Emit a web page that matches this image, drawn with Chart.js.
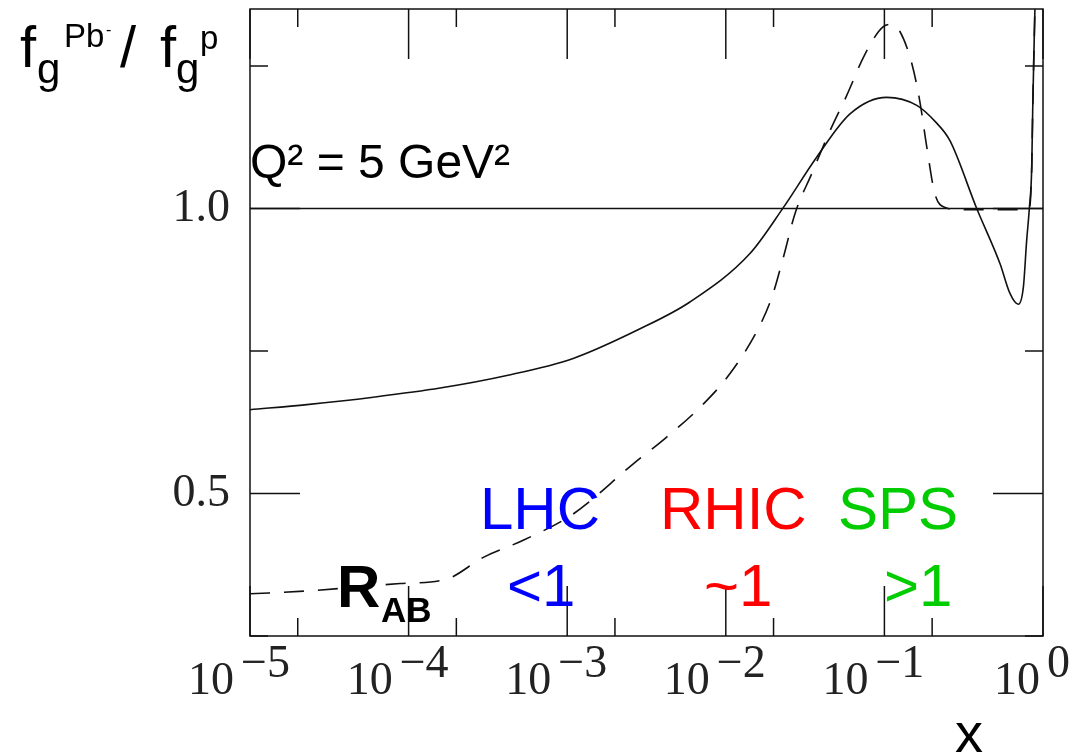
<!DOCTYPE html>
<html>
<head>
<meta charset="utf-8">
<script src="https://cdn.jsdelivr.net/npm/chart.js@4.4.1/dist/chart.umd.min.js"></script>
<style>
  body { margin: 0; background: #fff; }
  #wrap { width: 1077px; height: 755px; }
</style>
</head>
<body>
<div id="wrap"><canvas id="gluonChart" width="1077" height="755"></canvas></div>
<script>
// x values (Bjorken x) and gluon ratio
const solidX = [1.0e-5, 2.28e-5, 5.98e-5, 1.58e-4, 4.16e-4, 1.09e-3, 2.88e-3, 5.94e-3,
    1.42e-2, 2.31e-2, 3.74e-2, 6.07e-2, 1.035e-1, 1.60e-1, 2.10e-1, 2.59e-1, 3.82e-1, 5.36e-1,
    6.19e-1, 6.99e-1, 7.52e-1, 7.89e-1, 8.20e-1, 8.49e-1, 8.61e-1, 8.77e-1, 8.91e-1];
const solidY = [0.647, 0.656, 0.669, 0.685, 0.707, 0.737, 0.789, 0.836,
    0.921, 1.002, 1.090, 1.166, 1.195, 1.181, 1.152, 1.119, 1.000, 0.903,
    0.851, 0.832, 0.862, 0.944, 1.000, 1.072, 1.172, 1.277, 1.360];

const dashedX = [1.0e-5, 2.28e-5, 8.83e-5, 1.74e-4, 2.96e-4, 5.28e-4, 1.09e-3, 2.61e-3, 4.24e-3,
    6.87e-3, 1.06e-2, 1.60e-2, 1.95e-2, 2.31e-2, 2.73e-2, 3.48e-2, 4.55e-2, 5.78e-2,
    7.55e-2, 9.84e-2, 1.11e-1, 1.25e-1, 1.49e-1, 1.67e-1, 1.85e-1, 2.08e-1, 2.41e-1,
    3.00e-1, 4.63e-1, 7.35e-1, 8.20e-1, 8.49e-1, 8.61e-1, 8.77e-1, 8.91e-1];
const dashedY = [0.324, 0.329, 0.342, 0.350, 0.388, 0.418, 0.464, 0.552, 0.599,
    0.651, 0.710, 0.789, 0.844, 0.915, 0.991, 1.061, 1.137, 1.198,
    1.271, 1.319, 1.323, 1.311, 1.254, 1.189, 1.108, 1.026, 1.002,
    0.998, 0.998, 0.998, 1.000, 1.072, 1.172, 1.277, 1.360];

// reference line at ratio = 1
const unityX = [1e-5, 1];
const unityY = [1, 1];

// axis ticks
const xExponents = [-5, -4, -3, -2, -1, 0];
const xMinorTicks = [2e-5, 2e-4, 2e-3, 2e-2, 2e-1];
const yTickValues = [0.25, 0.5, 0.75, 1.0, 1.25];
const yLabelled = [0.5, 1.0];

function toPoints(xs, ys) {
    return xs.map((x, i) => ({ x: x, y: ys[i] }));
}

// frame, inward ticks, x labels with exponents and annotations
const decorations = {
    id: 'decorations',
    afterDatasetsDraw(chart) {
        const ctx = chart.ctx;
        const a = chart.chartArea;
        const xs = chart.scales.x, ys = chart.scales.y;
        ctx.save();
        ctx.strokeStyle = '#111';
        ctx.lineWidth = 1.5;
        ctx.strokeRect(a.left, a.top, a.right - a.left, a.bottom - a.top);

        function seg(x1, y1, x2, y2) {
            ctx.beginPath(); ctx.moveTo(x1, y1); ctx.lineTo(x2, y2); ctx.stroke();
        }
        xExponents.forEach(e => {
            const px = xs.getPixelForValue(Math.pow(10, e));
            seg(px, a.bottom, px, a.bottom - 50);
            seg(px, a.top, px, a.top + 50);
        });
        xMinorTicks.forEach(v => {
            const px = xs.getPixelForValue(v);
            seg(px, a.bottom, px, a.bottom - 18);
            seg(px, a.top, px, a.top + 18);
        });
        yTickValues.forEach(v => {
            const py = ys.getPixelForValue(v);
            const len = yLabelled.includes(v) ? 50 : 18;
            seg(a.left, py, a.left + len, py);
            seg(a.right, py, a.right - len, py);
        });

        // x tick labels: 10 with exponent
        ctx.fillStyle = '#222';
        ctx.font = '46px "Liberation Serif"';
        ctx.textBaseline = 'alphabetic';
        ctx.textAlign = 'left';
        xExponents.forEach(e => {
            const px = xs.getPixelForValue(Math.pow(10, e));
            const sup = e < 0 ? '\u2212' + (-e) : String(e);
            const wb = ctx.measureText('10').width;
            const ws = ctx.measureText(sup).width;
            const start = px - 11 - (wb + 7 + ws) / 2;
            ctx.fillText('10', start, 694);
            ctx.fillText(sup, start + wb + 7, 677);
        });

        // y axis title
        ctx.fillStyle = '#000';
        ctx.font = '58px "Liberation Sans"';
        ctx.fillText('f', 20, 67);
        ctx.fillText('/', 120, 67);
        ctx.fillText('f', 160, 67);
        ctx.font = '42px "Liberation Sans"';
        ctx.fillText('g', 37, 83);
        ctx.fillText('g', 176, 83);
        ctx.font = '33px "Liberation Sans"';
        ctx.fillText('Pb', 64, 47);
        ctx.fillText('p', 200, 49);
        ctx.font = '16px "Liberation Sans"';
        ctx.fillText('-', 106, 35);

        // x axis title
        ctx.font = '56px "Liberation Sans"';
        ctx.fillText('x', 955, 752);

        // Q^2 note
        ctx.font = '48px "Liberation Sans"';
        ctx.fillText('Q\u00b2 = 5 GeV\u00b2', 250, 178);

        // R_AB
        ctx.font = 'bold 60px "Liberation Sans"';
        ctx.fillText('R', 337, 607);
        ctx.font = 'bold 35px "Liberation Sans"';
        ctx.fillText('AB', 381, 622);

        // collider labels
        ctx.font = '60px "Liberation Sans"';
        ctx.fillStyle = '#0000ff';
        ctx.fillText('LHC', 480, 529);
        ctx.fillText('<1', 507, 606);
        ctx.fillStyle = '#ff0000';
        ctx.fillText('RHIC', 660, 529);
        ctx.fillText('~1', 704, 606);
        ctx.fillStyle = '#00cc00';
        ctx.fillText('SPS', 838, 529);
        ctx.fillText('>1', 884, 606);
        ctx.restore();
    }
};

function noPad(s) {
    s.paddingTop = 0; s.paddingBottom = 0;
    s.paddingLeft = 0; s.paddingRight = 0;
}

const ctx = document.getElementById('gluonChart').getContext('2d');
const chart = new Chart(ctx, {
    type: 'line',
    data: {
        datasets: [{
            label: 'ratio = 1',
            data: toPoints(unityX, unityY),
            borderColor: '#111',
            borderWidth: 1.5,
            pointRadius: 0
        }, {
            label: 'solid',
            data: toPoints(solidX, solidY),
            borderColor: '#111',
            borderWidth: 1.6,
            pointRadius: 0,
            cubicInterpolationMode: 'monotone'
        }, {
            label: 'dashed',
            data: toPoints(dashedX, dashedY),
            borderColor: '#111',
            borderWidth: 1.6,
            borderDash: [20, 14],
            pointRadius: 0,
            cubicInterpolationMode: 'monotone'
        }]
    },
    options: {
        responsive: false,
        animation: false,
        layout: { padding: { left: 130, top: 9, right: 34, bottom: 0 } },
        plugins: { legend: { display: false }, tooltip: { enabled: false } },
        scales: {
            x: {
                type: 'logarithmic',
                min: 1e-5,
                max: 1,
                grid: { display: false, drawTicks: false },
                border: { display: false },
                ticks: { display: false },
                afterFit: s => { s.height = 119; noPad(s); }
            },
            y: {
                type: 'linear',
                min: 0.25,
                max: 1.35,
                grid: { display: false, drawTicks: false },
                border: { display: false },
                afterBuildTicks: s => { s.ticks = yTickValues.map(v => ({ value: v })); },
                ticks: {
                    padding: 20,
                    color: '#222',
                    font: { family: 'Liberation Serif', size: 46 },
                    callback: v => yLabelled.includes(v) ? v.toFixed(1) : ''
                },
                afterFit: s => { s.width = 120; noPad(s); }
            }
        }
    },
    plugins: [decorations]
});
</script>
</body>
</html>
